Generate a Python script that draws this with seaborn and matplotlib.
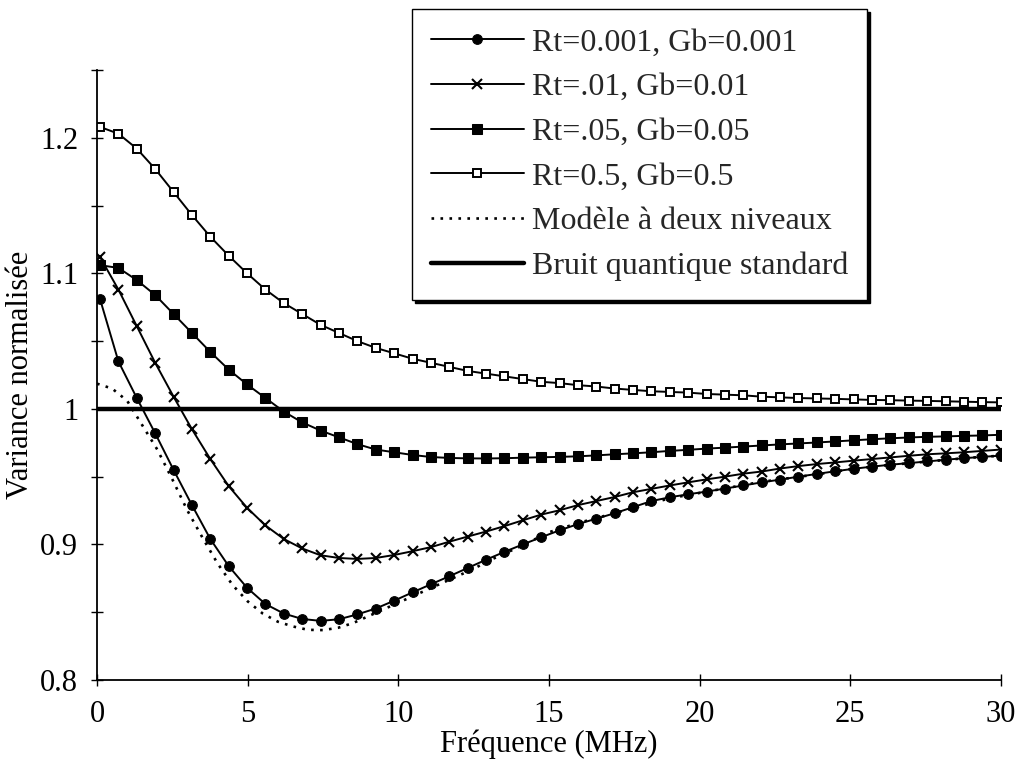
import numpy as np
import pandas as pd
import seaborn as sns
import matplotlib.pyplot as plt
from matplotlib.ticker import MultipleLocator

# frequency grid of the simulated curves (MHz)
freq = [0.1, 0.71, 1.32, 1.93, 2.54, 3.15, 3.76, 4.37, 4.98, 5.59,
        6.2, 6.81, 7.42, 8.03, 8.64, 9.25, 9.86, 10.47, 11.08, 11.69,
        12.3, 12.91, 13.52, 14.13, 14.74, 15.35, 15.96, 16.57, 17.18, 17.79,
        18.4, 19.01, 19.62, 20.23, 20.84, 21.45, 22.06, 22.67, 23.28, 23.89,
        24.5, 25.11, 25.72, 26.33, 26.94, 27.55, 28.16, 28.77, 29.38, 29.99]

var_rt0001 = [1.081, 1.035, 1.008, 0.982, 0.955, 0.929, 0.904, 0.884, 0.868, 0.856,
              0.849, 0.845, 0.8436, 0.8448, 0.8484, 0.8527, 0.8585, 0.8646, 0.8706, 0.8765,
              0.8826, 0.8887, 0.8945, 0.900, 0.9053, 0.9104, 0.915, 0.919, 0.923, 0.9275,
              0.932, 0.9348, 0.937, 0.939, 0.9412, 0.9435, 0.9458, 0.9478, 0.950, 0.952,
              0.954, 0.9558, 0.9574, 0.9588, 0.960, 0.9612, 0.9625, 0.9636, 0.9646, 0.9655]

var_rt001 = [1.112, 1.088, 1.061, 1.034, 1.009, 0.985, 0.963, 0.943, 0.927, 0.914,
             0.904, 0.897, 0.892, 0.890, 0.8893, 0.890, 0.8922, 0.895, 0.898, 0.902,
             0.9058, 0.9095, 0.9135, 0.9178, 0.922, 0.9252, 0.929, 0.932, 0.935, 0.9385,
             0.941, 0.9435, 0.9458, 0.948, 0.950, 0.9522, 0.9538, 0.956, 0.9578, 0.9593,
             0.9605, 0.9618, 0.963, 0.9642, 0.9654, 0.9665, 0.9672, 0.968, 0.969, 0.970]

var_rt005 = [1.106, 1.104, 1.095, 1.084, 1.070, 1.056, 1.042, 1.029, 1.018, 1.008,
             0.998, 0.990, 0.984, 0.979, 0.974, 0.970, 0.968, 0.966, 0.9645, 0.9638,
             0.9635, 0.9634, 0.9636, 0.964, 0.9643, 0.9646, 0.965, 0.9657, 0.9665, 0.9672,
             0.968, 0.969, 0.9698, 0.9707, 0.9714, 0.9722, 0.973, 0.9738, 0.9745, 0.9752,
             0.976, 0.9768, 0.9776, 0.9783, 0.9789, 0.9794, 0.9797, 0.9801, 0.9804, 0.9809]

var_rt05 = [1.208, 1.203, 1.192, 1.177, 1.160, 1.143, 1.127, 1.113, 1.100, 1.088,
            1.078, 1.070, 1.062, 1.056, 1.050, 1.045, 1.041, 1.037, 1.034, 1.031,
            1.028, 1.026, 1.024, 1.022, 1.020, 1.019, 1.0175, 1.0165, 1.015, 1.014,
            1.013, 1.0125, 1.012, 1.011, 1.0105, 1.010, 1.009, 1.0085, 1.008, 1.0077,
            1.0074, 1.007, 1.0066, 1.0064, 1.0061, 1.0059, 1.0056, 1.0053, 1.005, 1.0048]

# two-level model (dotted curve)
freq_model = [0, 0.5, 1.0, 1.5, 2.0, 2.5, 3.0, 3.5, 4.0, 4.5, 5.0, 5.5, 6.0, 6.5, 7.0,
              7.5, 8.0, 8.5, 9.0, 9.5, 10.0, 10.5, 11.0, 11.5, 12.0, 12.5, 13.0, 13.5,
              14.0, 15, 16, 17, 18, 19, 20, 21, 22, 23, 24, 25, 26, 27, 28, 29, 30]
var_model = [1.0186, 1.015, 1.006, 0.988, 0.970, 0.948, 0.925, 0.905, 0.886, 0.870,
             0.858, 0.849, 0.843, 0.8395, 0.837, 0.8368, 0.8385, 0.842, 0.847, 0.852,
             0.857, 0.862, 0.867, 0.872, 0.877, 0.882, 0.888, 0.893, 0.898, 0.909,
             0.916, 0.922, 0.928, 0.934, 0.938, 0.942, 0.946, 0.949, 0.952, 0.9555,
             0.958, 0.960, 0.962, 0.964, 0.9655]

# standard quantum noise
freq_sqn = [0, 30]
var_sqn = [1.0, 1.0]

labels = ["Rt=0.001, Gb=0.001", "Rt=.01, Gb=0.01", "Rt=.05, Gb=0.05",
          "Rt=0.5, Gb=0.5", "Modèle à deux niveaux", "Bruit quantique standard"]

sns.set_theme(style="ticks")
plt.rcParams['font.family'] = ['Liberation Serif', 'DejaVu Serif']
plt.rcParams['font.size'] = 22

fig = plt.figure(figsize=(10.16, 7.66), dpi=100)
ax = fig.add_axes([0.0955, 0.1123, 0.8897, 0.7963])

df = pd.DataFrame({"freq": freq, "a": var_rt0001, "b": var_rt001,
                   "c": var_rt005, "d": var_rt05})

sns.lineplot(data=df, x="freq", y="a", ax=ax, color="black", lw=1.4,
             marker="o", ms=7, mec="black", mfc="black", label=labels[0])
sns.lineplot(data=df, x="freq", y="b", ax=ax, color="black", lw=1.4,
             marker="x", ms=6.5, mew=1.5, mec="black", label=labels[1])
sns.lineplot(data=df, x="freq", y="c", ax=ax, color="black", lw=1.4,
             marker="s", ms=6.5, mec="black", mfc="black", label=labels[2])
sns.lineplot(data=df, x="freq", y="d", ax=ax, color="black", lw=1.4,
             marker="s", ms=6.3, mew=1.4, mec="black", mfc="white", label=labels[3])
sns.lineplot(x=freq_model, y=var_model, ax=ax, color="black", lw=1.9,
             label=labels[4]).lines[-1].set_dashes((1, 2.4))
sns.lineplot(x=freq_sqn, y=var_sqn, ax=ax, color="black", lw=3.2, label=labels[5])

ax.set_xlim(0, 30)
ax.set_ylim(0.8, 1.25)
ax.xaxis.set_major_locator(MultipleLocator(5))
ax.yaxis.set_major_locator(MultipleLocator(0.1))
ax.yaxis.set_minor_locator(MultipleLocator(0.05))
ax.yaxis.set_major_formatter(plt.FuncFormatter(lambda v, p: f"{v:g}"))
ax.tick_params(axis="both", which="both", direction="inout", length=9, width=1,
               color="black", labelsize=22, labelcolor="black")
ax.tick_params(axis="y", pad=9)
ax.tick_params(axis="x", pad=10)

sns.despine(ax=ax)
for s in ["left", "bottom"]:
    ax.spines[s].set_color("black")
    ax.spines[s].set_linewidth(1.3)

ax.set_xlabel("Fréquence (MHz)", fontsize=22, color="black", labelpad=0)
ax.set_ylabel("Variance normalisée", fontsize=22, color="black", labelpad=4)

handles, _ = ax.get_legend_handles_labels()
leg = ax.legend(handles, labels, loc="upper left",
                bbox_to_anchor=(412 / 1016, 1 - 9 / 766), bbox_transform=fig.transFigure,
                borderaxespad=0, fancybox=False, frameon=True, edgecolor="black",
                framealpha=1, shadow={"color": "black", "alpha": 1},
                handlelength=2.9, handletextpad=0.25, labelspacing=0.48,
                borderpad=0.6, fontsize=23)
leg.get_frame().set_linewidth(1.0)

fig.savefig("out.png", dpi=100, facecolor="white")
